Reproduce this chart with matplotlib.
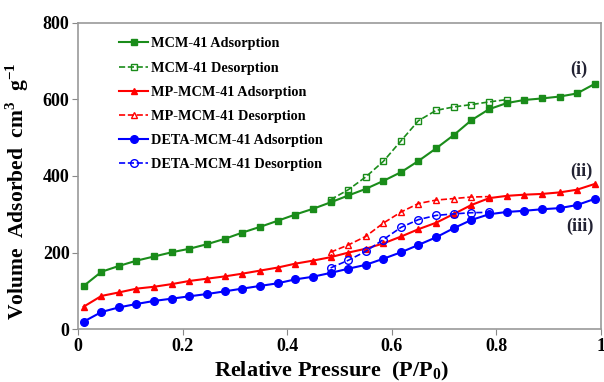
import matplotlib
matplotlib.use("Agg")
import matplotlib.pyplot as plt

plt.rcParams['font.family'] = ['Liberation Serif', 'DejaVu Serif']
plt.rcParams['font.weight'] = 'bold'
plt.rcParams['mathtext.fontset'] = 'custom'
plt.rcParams['mathtext.rm'] = 'Liberation Serif'
plt.rcParams['mathtext.bf'] = 'Liberation Serif:bold'

# relative pressure points (P/P0)
p_ads = [0.011, 0.045, 0.078, 0.112, 0.146, 0.180, 0.213, 0.247, 0.281, 0.314,
         0.348, 0.382, 0.415, 0.449, 0.483, 0.517, 0.550, 0.584, 0.618, 0.651,
         0.685, 0.719, 0.752, 0.786, 0.820, 0.853, 0.887, 0.921, 0.954, 0.988]
p_des_mcm = [0.483, 0.517, 0.550, 0.584, 0.618, 0.651, 0.685, 0.719, 0.752, 0.786, 0.820]
p_des = [0.483, 0.517, 0.550, 0.584, 0.618, 0.651, 0.685, 0.719, 0.752, 0.786]

# volume adsorbed (cm3/g)
mcm_ads = [113, 150, 165, 179, 190, 201, 210, 222, 236, 252, 267, 283, 299, 314, 331,
           349, 366, 387, 410, 439, 472, 507, 545, 574, 590, 598, 602, 607, 615, 640]
mcm_des = [338, 364, 397, 438, 492, 544, 571, 580, 586, 593, 599]
mp_ads = [59, 87, 96, 106, 111, 118, 126, 132, 138, 145, 153, 161, 171, 179, 188,
          200, 210, 224, 242, 261, 278, 301, 324, 342, 348, 351, 353, 357, 364, 379]
mp_des = [201, 220, 242, 277, 306, 328, 337, 341, 345, 346]
deta_ads = [20, 45, 57, 66, 74, 80, 86, 92, 99, 106, 113, 120, 130, 137, 147,
            158, 168, 184, 201, 220, 240, 264, 285, 300, 306, 309, 313, 316, 324, 340]
deta_des = [160, 180, 203, 234, 266, 286, 297, 301, 304, 305]

green = '#1a8c1a'
red = '#ff0000'
blue = '#0000ff'

fig = plt.figure(figsize=(6.04, 3.82), dpi=100)
ax = fig.add_axes([0.129, 0.138, 0.866, 0.803])

ax.plot(p_ads, mcm_ads, '-s', color=green, ms=5, lw=1.5, label='MCM-41 Adsorption')
ax.plot(p_des_mcm, mcm_des, '--s', color=green, ms=5, lw=1.2, mfc='none', label='MCM-41 Desorption')
ax.plot(p_ads, mp_ads, '-^', color=red, ms=5, lw=1.5, label='MP-MCM-41 Adsorption')
ax.plot(p_des, mp_des, '--^', color=red, ms=5, lw=1.2, mfc='none', label='MP-MCM-41 Desorption')
ax.plot(p_ads, deta_ads, '-o', color=blue, ms=5.5, lw=1.5, label='DETA-MCM-41 Adsorption')
ax.plot(p_des, deta_des, '--o', color=blue, ms=5.5, lw=1.2, mfc='none', label='DETA-MCM-41 Desorption')

ax.text(0.958, 677, '(i)', fontsize=13, fontweight='bold', ha='center', va='center', color='#222233')
ax.text(0.962, 413, '(ii)', fontsize=13, fontweight='bold', ha='center', va='center', color='#222233')
ax.text(0.96, 268, '(iii)', fontsize=13, fontweight='bold', ha='center', va='center', color='#222233')

ax.set_xlim(0, 1)
ax.set_ylim(0, 800)
ax.set_xticks([0, 0.2, 0.4, 0.6, 0.8, 1])
ax.set_xticklabels(['0', '0.2', '0.4', '0.6', '0.8', '1'])
ax.set_yticks([0, 200, 400, 600, 800])
ax.tick_params(labelsize=13, length=4, color='#888888', pad=2)
for s in ax.spines.values():
    s.set_color('#999999')
    s.set_linewidth(1.2)

ax.set_xlabel('Relative Pressure  (P/P$_\\mathbf{0}$)', fontsize=16, fontweight='bold')
ax.set_ylabel('Volume  Adsorbed  cm$^\\mathbf{3}$  g$^\\mathbf{-1}$', fontsize=15.5, fontweight='bold')
ax.xaxis.set_label_coords(0.485, -0.1)
ax.yaxis.set_label_coords(-0.09, 0.45)

ax.legend(loc='upper left', bbox_to_anchor=(0.068, 0.97), frameon=False, fontsize=10.3,
          handlelength=2.0, labelspacing=0.78, handletextpad=0.2, borderaxespad=0)

fig.savefig('out.png', dpi=100)
